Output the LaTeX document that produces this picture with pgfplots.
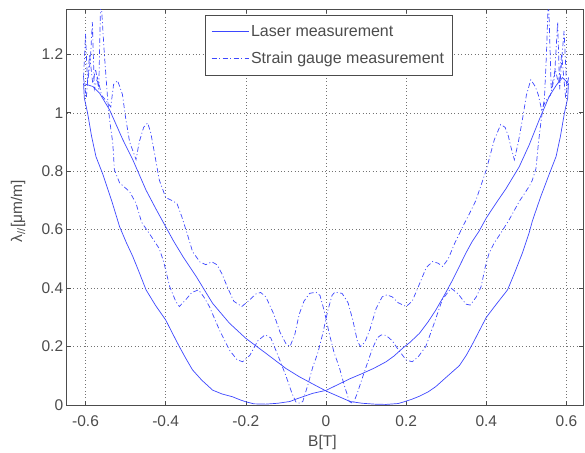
\documentclass[border=0pt]{standalone}
\usepackage{fontspec}
\setmainfont{Liberation Sans}
\usepackage{pgfplots}
\pgfplotsset{compat=1.18}
\definecolor{mb}{rgb}{0.24,0.28,1}
\definecolor{fr}{rgb}{0.3,0.3,0.3}
\newcommand{\lf}{\fontsize{15.5}{18}\selectfont}
\begin{document}
\begin{tikzpicture}
\begin{axis}[
  scale only axis, width=516.6pt, height=395.7pt,
  xmin=-0.647, xmax=0.642, ymin=0, ymax=1.354,
  xtick={-0.6,-0.4,-0.2,0,0.2,0.4,0.6},
  xticklabels={-0.6,-0.4,-0.2,0,0.2,0.4,0.6},
  ytick={0,0.2,0.4,0.6,0.8,1,1.2},
  yticklabels={0,0.2,0.4,0.6,0.8,1,1.2},
  tick align=inside, major tick length=4pt,
  grid=major,
  major grid style={black!55, line width=0.4pt, dash pattern=on 0.8pt off 2.6pt},
  axis line style={fr, line width=0.7pt},
  tick style={fr, line width=0.6pt},
  ticklabel style={font=\lf, text=fr},
  xticklabel style={yshift=-7.5pt},
  xlabel={B[T]}, ylabel={λ\textsubscript{//}[μm/m]},
  label style={font=\lf, text=fr},
  xlabel style={at={(axis description cs:0.495,-0.096)}, anchor=center},
  ylabel style={at={(axis description cs:-0.094,0.49)}, anchor=center},
  legend style={at={(0.507,0.985)}, anchor=north, draw=fr, line width=0.6pt,
    font=\fontsize{16}{18}\selectfont, text=fr, inner xsep=6pt, inner ysep=8pt, row sep=10pt,
    cells={anchor=west}},
]
% Laser A
\addplot[mb, line width=0.7pt, no marks,
  legend image code/.code={\pgfsetcolor{mb}\draw[color=mb, draw=mb, line width=0.9pt] (0pt,0.5pt) -- (37pt,0.5pt);}] coordinates {(-0.605,1.10) (-0.603,1.05) (-0.595,1.00) (-0.585,0.92) (-0.574,0.85) (-0.557,0.79) (-0.535,0.70) (-0.515,0.61) (-0.498,0.555) (-0.482,0.508) (-0.465,0.45) (-0.449,0.394) (-0.425,0.34) (-0.40,0.291) (-0.383,0.245) (-0.366,0.20) (-0.35,0.16) (-0.333,0.12) (-0.31,0.085) (-0.283,0.051) (-0.26,0.038) (-0.233,0.028) (-0.215,0.018) (-0.20,0.011) (-0.18,0.004) (-0.15,0.003) (-0.12,0.006) (-0.09,0.012) (-0.075,0.02) (-0.05,0.032) (-0.033,0.04) (0,0.05) (0.033,0.072) (0.06,0.09) (0.091,0.108) (0.12,0.126) (0.15,0.148) (0.17,0.168) (0.191,0.194) (0.21,0.215) (0.233,0.245) (0.255,0.285) (0.274,0.325) (0.295,0.375) (0.316,0.428) (0.333,0.475) (0.349,0.52) (0.365,0.56) (0.382,0.595) (0.40,0.64) (0.424,0.69) (0.449,0.74) (0.482,0.815) (0.507,0.89) (0.532,0.976) (0.557,1.056) (0.575,1.095) (0.59,1.12) (0.605,1.10)};
\addlegendentry{Laser measurement}
% Strain C
\addplot[mb, line width=0.7pt, no marks, dash pattern=on 5pt off 2.5pt on 1pt off 2.5pt,
  legend image code/.code={\pgfsetcolor{mb}\draw[color=mb, draw=mb, line width=0.9pt, dash pattern=on 5pt off 2.5pt on 1pt off 2.5pt] (0pt,0.5pt) -- (37pt,0.5pt);}] coordinates {(-0.605,1.12) (-0.600,1.27) (-0.595,1.10) (-0.588,1.18) (-0.583,1.31) (-0.578,1.08) (-0.57,1.12) (-0.56,1.06) (-0.548,1.04) (-0.537,1.02) (-0.53,1.097) (-0.52,1.11) (-0.508,1.063) (-0.50,0.983) (-0.49,0.90) (-0.474,0.84) (-0.466,0.90) (-0.455,0.95) (-0.445,0.965) (-0.437,0.93) (-0.428,0.862) (-0.416,0.77) (-0.40,0.71) (-0.385,0.70) (-0.372,0.69) (-0.36,0.645) (-0.345,0.58) (-0.333,0.525) (-0.315,0.49) (-0.30,0.48) (-0.285,0.49) (-0.272,0.48) (-0.26,0.45) (-0.245,0.40) (-0.23,0.355) (-0.21,0.337) (-0.19,0.36) (-0.175,0.38) (-0.163,0.385) (-0.15,0.37) (-0.13,0.31) (-0.115,0.25) (-0.10,0.21) (-0.09,0.20) (-0.078,0.24) (-0.067,0.31) (-0.055,0.355) (-0.041,0.382) (-0.025,0.386) (-0.015,0.375) (-0.004,0.32) (0.008,0.245) (0.02,0.18) (0.033,0.13) (0.045,0.07) (0.052,0.04) (0.058,0.012) (0.068,0.005) (0.078,0.04) (0.09,0.09) (0.10,0.13) (0.115,0.19) (0.128,0.23) (0.138,0.24) (0.15,0.238) (0.165,0.22) (0.18,0.19) (0.20,0.154) (0.215,0.148) (0.23,0.165) (0.249,0.20) (0.27,0.28) (0.29,0.36) (0.312,0.40) (0.33,0.38) (0.349,0.345) (0.36,0.342) (0.375,0.37) (0.387,0.405) (0.397,0.47) (0.407,0.52) (0.42,0.555) (0.436,0.588) (0.457,0.634) (0.482,0.696) (0.507,0.748) (0.515,0.77) (0.524,0.81) (0.53,0.896) (0.537,0.976) (0.545,1.05) (0.55,1.2) (0.555,1.40) (0.562,1.08) (0.572,1.15) (0.58,1.1) (0.588,1.2) (0.598,1.05) (0.605,1.12)};
\addlegendentry{Strain gauge measurement}
% Laser B
\addplot[mb, line width=0.7pt, no marks, forget plot] coordinates {(-0.605,1.10) (-0.582,1.09) (-0.565,1.067) (-0.54,1.01) (-0.507,0.908) (-0.482,0.839) (-0.449,0.735) (-0.424,0.67) (-0.40,0.61) (-0.38,0.56) (-0.357,0.508) (-0.324,0.44) (-0.283,0.348) (-0.241,0.28) (-0.2,0.228) (-0.15,0.177) (-0.1,0.125) (-0.067,0.097) (-0.033,0.072) (0,0.048) (0.03,0.03) (0.06,0.012) (0.09,0.006) (0.12,0.003) (0.15,0.002) (0.18,0.005) (0.195,0.011) (0.215,0.02) (0.233,0.03) (0.255,0.045) (0.274,0.063) (0.30,0.095) (0.333,0.135) (0.35,0.17) (0.366,0.21) (0.383,0.255) (0.40,0.30) (0.425,0.345) (0.453,0.394) (0.47,0.45) (0.49,0.52) (0.507,0.59) (0.515,0.63) (0.535,0.71) (0.557,0.79) (0.574,0.85) (0.585,0.92) (0.595,1.0) (0.603,1.05) (0.605,1.10)};
% Strain D
\addplot[mb, line width=0.7pt, no marks, forget plot, dash pattern=on 5pt off 2.5pt on 1pt off 2.5pt] coordinates {(-0.605,1.12) (-0.598,1.05) (-0.59,1.2) (-0.582,1.1) (-0.575,1.15) (-0.567,1.08) (-0.562,1.40) (-0.553,1.2) (-0.545,1.05) (-0.54,0.976) (-0.532,0.896) (-0.528,0.805) (-0.515,0.76) (-0.49,0.73) (-0.474,0.69) (-0.46,0.625) (-0.44,0.585) (-0.416,0.535) (-0.405,0.49) (-0.39,0.405) (-0.375,0.355) (-0.366,0.337) (-0.35,0.36) (-0.335,0.385) (-0.318,0.394) (-0.305,0.37) (-0.291,0.337) (-0.266,0.257) (-0.241,0.188) (-0.222,0.155) (-0.208,0.148) (-0.19,0.17) (-0.17,0.22) (-0.152,0.24) (-0.138,0.23) (-0.12,0.17) (-0.10,0.10) (-0.085,0.04) (-0.075,0.01) (-0.065,0.006) (-0.058,0.012) (-0.045,0.07) (-0.033,0.13) (-0.02,0.18) (-0.008,0.245) (0.004,0.32) (0.015,0.375) (0.022,0.386) (0.04,0.382) (0.055,0.35) (0.067,0.29) (0.078,0.22) (0.086,0.20) (0.097,0.215) (0.11,0.26) (0.125,0.33) (0.14,0.37) (0.152,0.377) (0.165,0.37) (0.18,0.35) (0.2,0.337) (0.215,0.355) (0.235,0.42) (0.25,0.47) (0.266,0.491) (0.28,0.485) (0.291,0.474) (0.305,0.50) (0.32,0.55) (0.341,0.61) (0.358,0.655) (0.374,0.70) (0.40,0.805) (0.42,0.908) (0.436,0.96) (0.447,0.95) (0.455,0.92) (0.461,0.885) (0.47,0.839) (0.48,0.90) (0.49,0.976) (0.50,1.06) (0.511,1.113) (0.522,1.09) (0.53,1.06) (0.538,1.01) (0.548,1.04) (0.56,1.06) (0.57,1.12) (0.578,1.31) (0.583,1.08) (0.588,1.18) (0.594,1.28) (0.60,1.10) (0.605,1.12)};
\end{axis}
\pgfresetboundingbox
\path ([shift={(-66.7pt,-47pt)}]current axis.south west) rectangle ([shift={(1.7pt,9.3pt)}]current axis.north east);
\end{tikzpicture}
\end{document}
